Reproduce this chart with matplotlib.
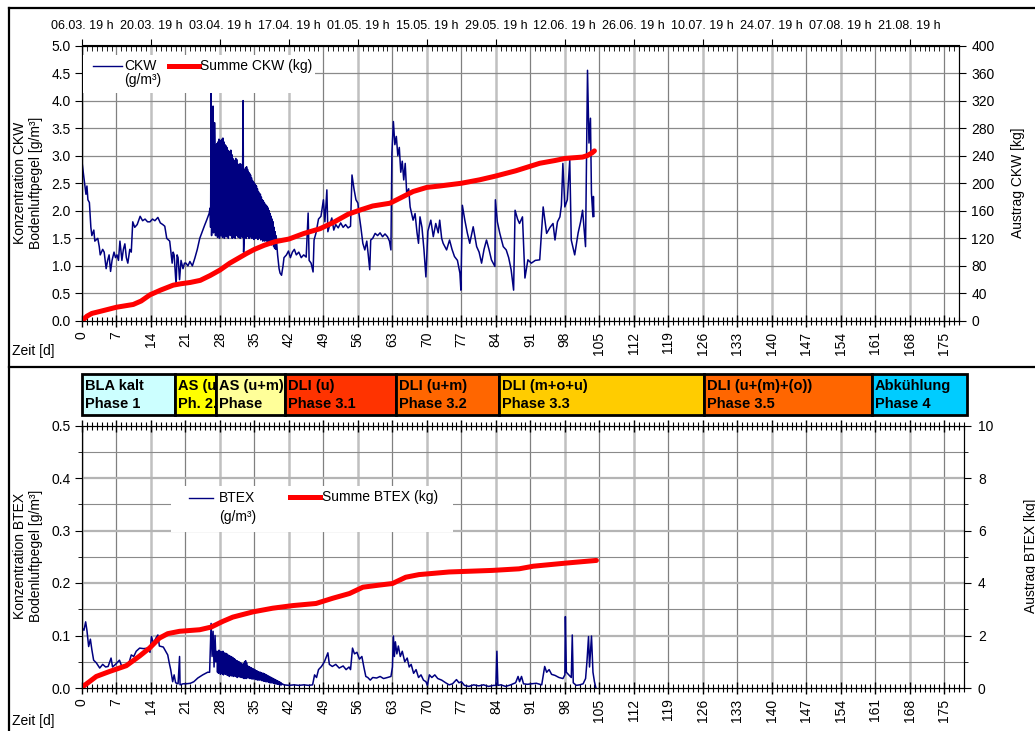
import numpy as np
import matplotlib
matplotlib.use("Agg")
import matplotlib.pyplot as plt
from matplotlib.patches import Rectangle
from matplotlib.lines import Line2D
from matplotlib.transforms import Bbox, TransformedBbox
from matplotlib.ticker import MultipleLocator, FormatStrFormatter

plt.rcParams['font.family'] = ['Liberation Sans', 'DejaVu Sans']

# ---- data -------------------------------------------------------------
date_labels = ['06.03. 19 h', '20.03. 19 h', '03.04. 19 h', '17.04. 19 h',
               '01.05. 19 h', '15.05. 19 h', '29.05. 19 h', '12.06. 19 h',
               '26.06. 19 h', '10.07. 19 h', '24.07. 19 h', '07.08. 19 h',
               '21.08. 19 h']
day_ticks = list(range(0, 176, 7))

# CKW Bodenluft (Tag, g/m3)
ckw = [
    (0, 0.0), (0.05, 2.85), (0.4, 2.6), (0.8, 2.3), (1.0, 2.45), (1.2, 2.2),
    (1.5, 2.15), (1.8, 1.7), (2.0, 1.55), (2.4, 1.65), (2.6, 1.45), (3.2, 1.5),
    (3.5, 1.35), (3.7, 1.2), (4.2, 1.3), (4.5, 1.25), (4.9, 0.95), (5.2, 1.1),
    (5.5, 1.2), (5.8, 0.9), (6.1, 1.1), (6.5, 1.25), (6.8, 1.15), (7.1, 1.2),
    (7.4, 1.1), (7.7, 1.45), (8.1, 1.1), (8.4, 1.3), (8.7, 1.4), (9.0, 1.15),
    (9.3, 1.05), (9.7, 1.3), (10.0, 1.25), (10.3, 1.8), (10.7, 1.7), (11.2, 1.75),
    (11.8, 1.9), (12.3, 1.82), (12.8, 1.85), (13.3, 1.8), (13.8, 1.8), (14.3, 1.85),
    (14.8, 1.82), (15.4, 1.88), (15.9, 1.78), (16.4, 1.75), (16.8, 1.72), (17.2, 1.5),
    (17.8, 1.45), (18.3, 1.05), (18.5, 1.25), (18.7, 1.2), (19.1, 0.65), (19.3, 1.2),
    (19.5, 1.15), (19.8, 0.75), (20.1, 1.1), (20.5, 0.95), (20.8, 1.05), (21.1, 1.05),
    (21.5, 1.0), (21.9, 1.08), (22.4, 1.0), (22.9, 1.14), (23.4, 1.3), (23.9, 1.5),
    (24.4, 1.62), (24.9, 1.74), (25.3, 1.83), (25.8, 1.95), (26.0, 2.05), (26.1, 1.7),
    (26.2, 4.14), (26.3, 1.55), (26.5, 2.5), (26.6, 3.9), (26.7, 1.6), (26.9, 3.6),
    (27.0, 3.15), (27.1, 1.55), (27.2, 3.2), (27.3, 1.6), (27.4, 3.22), (27.5, 1.52),
    (27.6, 3.25), (27.7, 1.58), (27.8, 3.3), (27.9, 1.5), (28.0, 3.28), (28.1, 1.55),
    (28.2, 3.25), (28.3, 1.6), (28.4, 3.3), (28.5, 1.52), (28.6, 3.32), (28.7, 1.55),
    (28.8, 3.25), (28.9, 1.5), (29.0, 3.2), (29.1, 1.57), (29.2, 3.18), (29.3, 1.53),
    (29.4, 3.15), (29.5, 1.55), (29.6, 3.1), (29.7, 1.5), (29.8, 3.05), (29.9, 1.58),
    (30.0, 3.08), (30.1, 1.55), (30.2, 3.1), (30.3, 1.6), (30.4, 3.02), (30.5, 1.5),
    (30.6, 2.95), (30.7, 1.52), (30.8, 2.92), (30.9, 1.56), (31.0, 2.9), (31.1, 1.5),
    (31.2, 2.95), (31.3, 1.55), (31.4, 2.93), (31.5, 1.6), (31.6, 2.85), (31.7, 1.52),
    (31.8, 2.8), (31.9, 1.55), (32.0, 2.85), (32.1, 1.5), (32.2, 2.85), (32.3, 1.55),
    (32.4, 2.75), (32.5, 1.52), (32.6, 2.7), (32.7, 4.0), (32.8, 1.25), (32.9, 1.5),
    (33.0, 2.75), (33.1, 1.55), (33.2, 2.78), (33.3, 1.5), (33.4, 2.8), (33.5, 1.53),
    (33.6, 2.75), (33.7, 1.55), (33.8, 2.7), (33.9, 1.5), (34.0, 2.68), (34.1, 1.52),
    (34.2, 2.65), (34.3, 1.55), (34.4, 2.6), (34.5, 1.5), (34.6, 2.55), (34.7, 1.55),
    (34.8, 2.52), (34.9, 1.48), (35.0, 2.5), (35.1, 1.52), (35.2, 2.47), (35.3, 1.5),
    (35.4, 2.45), (35.5, 1.55), (35.6, 2.4), (35.7, 1.48), (35.8, 2.35), (35.9, 1.5),
    (36.0, 2.32), (36.1, 1.52), (36.2, 2.3), (36.3, 1.47), (36.4, 2.25), (36.5, 1.5),
    (36.6, 2.2), (36.7, 1.45), (36.8, 2.18), (36.9, 1.48), (37.0, 2.15), (37.1, 1.45),
    (37.2, 2.12), (37.3, 1.5), (37.4, 2.1), (37.5, 1.45), (37.6, 2.08), (37.7, 1.42),
    (37.8, 2.05), (37.9, 1.45), (38.0, 2.0), (38.1, 1.4), (38.2, 1.95), (38.3, 1.42),
    (38.4, 1.9), (38.5, 1.38), (38.6, 1.85), (38.7, 1.4), (38.8, 1.8), (38.9, 1.35),
    (39.0, 1.7), (39.1, 1.32), (39.2, 1.62), (39.3, 1.3), (39.4, 1.55), (39.7, 1.2),
    (40.0, 0.95), (40.2, 0.87), (40.5, 0.83), (40.8, 1.0), (41.0, 1.15), (41.5, 1.2),
    (41.9, 1.27), (42.3, 1.15), (42.7, 1.25), (43.1, 1.3), (43.5, 1.2), (44.0, 1.25),
    (44.5, 1.15), (45.0, 1.2), (45.5, 1.16), (45.9, 1.96), (46.1, 1.1), (46.5, 1.05),
    (46.9, 0.89), (47.1, 1.47), (47.5, 1.6), (48.0, 1.85), (48.5, 1.9), (49.0, 2.2),
    (49.3, 1.8), (49.7, 2.38), (49.9, 1.62), (50.3, 1.75), (50.7, 1.87), (51.1, 1.65),
    (51.5, 1.75), (52.0, 1.69), (52.5, 1.78), (53.0, 1.7), (53.5, 1.75), (54.0, 1.69),
    (54.5, 1.72), (54.8, 2.65), (55.2, 2.4), (55.6, 2.2), (56.0, 2.14), (56.2, 1.96),
    (56.6, 1.7), (57.0, 1.41), (57.4, 1.29), (57.8, 1.45), (58.1, 1.2), (58.4, 0.93),
    (58.6, 1.47), (59.0, 1.5), (59.5, 1.59), (60.0, 1.55), (60.5, 1.6), (61.0, 1.53),
    (61.5, 1.58), (62.0, 1.53), (62.4, 1.45), (62.7, 1.29), (62.9, 3.05), (63.2, 3.62),
    (63.5, 3.2), (63.8, 3.35), (64.1, 3.0), (64.4, 3.15), (64.7, 2.7), (65.0, 2.9),
    (65.3, 2.56), (65.6, 2.86), (65.9, 2.32), (66.3, 2.4), (66.6, 2.07), (67.2, 1.83),
    (67.6, 1.95), (68.0, 1.6), (68.3, 1.41), (68.6, 1.89), (69.0, 1.7), (69.4, 1.3),
    (69.8, 0.8), (70.2, 1.63), (70.8, 1.83), (71.3, 1.53), (71.8, 1.77), (72.3, 1.6),
    (72.6, 1.83), (73.0, 1.5), (73.3, 1.41), (74.0, 1.29), (74.6, 1.47), (75.1, 1.3),
    (75.6, 1.17), (76.2, 1.1), (76.7, 0.87), (76.9, 0.56), (77.2, 2.1), (77.7, 1.83),
    (78.2, 1.6), (78.7, 1.41), (79.4, 1.71), (80.1, 1.35), (80.6, 1.25), (81.1, 1.05),
    (81.6, 1.3), (82.1, 1.47), (82.6, 1.3), (83.1, 1.11), (83.8, 0.99), (83.9, 2.2),
    (84.3, 1.8), (84.8, 1.59), (85.5, 1.35), (86.1, 1.29), (86.6, 1.15), (87.1, 0.93),
    (87.6, 0.56), (87.9, 2.01), (88.4, 1.85), (88.8, 1.77), (89.4, 1.89), (89.9, 0.78),
    (90.5, 1.11), (91.2, 1.05), (92.0, 1.1), (92.9, 1.11), (93.6, 2.07), (94.3, 1.59),
    (95.0, 1.7), (95.6, 1.77), (96.0, 1.47), (96.5, 1.8), (97.0, 1.89), (97.3, 2.1),
    (97.6, 2.86), (98.0, 2.07), (98.5, 2.2), (99.0, 2.92), (99.3, 1.47), (100.0, 1.2),
    (100.7, 1.6), (101.2, 1.8), (101.6, 2.01), (102.2, 1.35), (102.4, 2.92), (102.6, 4.55),
    (102.9, 3.23), (103.2, 3.68), (103.4, 2.32), (103.7, 1.89), (103.8, 2.26), (103.9, 1.9),
]

# Summe CKW (Tag, kg)
summe_ckw = [
    (0, 0), (1, 7), (2, 11), (3.7, 14), (7, 20), (10.4, 24), (12, 29), (13.8, 38),
    (16, 45), (18.5, 52), (20, 54), (22, 56), (24, 59), (26, 66), (28, 74), (30, 84),
    (33.4, 98), (35, 104), (37, 110), (39.1, 115), (42, 119), (45, 127), (48.3, 134),
    (51, 143), (54, 155), (56.4, 161), (59, 167), (62.5, 171), (65, 180), (67.2, 188),
    (70, 194), (72.6, 196), (77, 200), (80.7, 205), (83.7, 210), (88, 218), (92.9, 229),
    (96, 233), (98, 236), (101.6, 238), (102.5, 240), (103.5, 244), (104, 247),
]

# BTEX Bodenluft (Tag, g/m3)
btex = [
    (0, 0.0), (0.05, 0.114), (0.4, 0.11), (0.74, 0.126), (1.0, 0.11), (1.35, 0.079),
    (1.7, 0.093), (2.0, 0.073), (2.36, 0.053), (2.9, 0.048), (3.6, 0.038), (4.2, 0.045),
    (4.8, 0.04), (5.3, 0.041), (5.9, 0.057), (6.2, 0.04), (6.8, 0.045), (7.6, 0.053),
    (8.2, 0.038), (9.0, 0.045), (9.6, 0.05), (10.0, 0.063), (10.5, 0.06), (11.0, 0.07),
    (11.7, 0.076), (12.5, 0.075), (13.5, 0.076), (13.8, 0.068), (14.1, 0.098), (14.5, 0.085),
    (15.0, 0.095), (15.4, 0.101), (15.7, 0.08), (16.5, 0.078), (17.4, 0.063), (17.7, 0.048),
    (18.0, 0.035), (18.4, 0.012), (18.7, 0.025), (19.0, 0.01), (19.5, 0.008), (19.8, 0.06),
    (19.9, 0.006), (20.5, 0.008), (21.1, 0.008), (22.0, 0.009), (22.7, 0.012), (23.5, 0.019),
    (24.5, 0.025), (25.5, 0.03), (25.9, 0.03), (26.2, 0.123), (26.4, 0.06), (26.6, 0.108),
    (26.8, 0.04), (27.0, 0.1), (27.2, 0.05),
    (27.4, 0.07), (27.5, 0.03), (27.6, 0.068), (27.7, 0.028), (27.8, 0.072), (27.9, 0.03),
    (28.0, 0.07), (28.1, 0.026), (28.2, 0.068), (28.3, 0.03), (28.4, 0.069), (28.5, 0.027),
    (28.6, 0.07), (28.7, 0.025), (28.8, 0.067), (28.9, 0.028), (29.0, 0.066), (29.1, 0.026),
    (29.2, 0.066), (29.3, 0.028), (29.4, 0.065), (29.5, 0.024), (29.6, 0.063), (29.7, 0.025),
    (29.8, 0.062), (29.9, 0.022), (30.0, 0.061), (30.1, 0.025), (30.2, 0.06), (30.3, 0.023),
    (30.4, 0.059), (30.5, 0.025), (30.6, 0.058), (30.7, 0.022), (30.8, 0.056), (30.9, 0.024),
    (31.0, 0.055), (31.1, 0.022), (31.2, 0.053), (31.3, 0.024), (31.4, 0.052), (31.5, 0.02),
    (31.6, 0.051), (31.7, 0.022), (31.8, 0.05), (31.9, 0.021), (32.0, 0.049), (32.1, 0.022),
    (32.2, 0.048), (32.3, 0.02), (32.4, 0.046), (32.5, 0.021), (32.6, 0.045), (32.7, 0.019),
    (32.8, 0.046), (32.9, 0.018), (33.0, 0.05), (33.1, 0.02), (33.2, 0.052), (33.3, 0.018),
    (33.4, 0.048), (33.5, 0.02), (33.6, 0.042), (33.7, 0.019), (33.8, 0.041), (33.9, 0.02),
    (34.0, 0.04), (34.1, 0.018), (34.2, 0.039), (34.3, 0.019), (34.4, 0.038), (34.5, 0.017),
    (34.6, 0.037), (34.7, 0.018), (34.8, 0.036), (34.9, 0.017), (35.0, 0.035), (35.1, 0.018),
    (35.2, 0.034), (35.3, 0.016), (35.4, 0.033), (35.5, 0.016), (35.6, 0.032), (35.7, 0.015),
    (35.8, 0.031), (35.9, 0.016), (36.0, 0.03), (36.1, 0.015), (36.2, 0.03), (36.3, 0.016),
    (36.4, 0.029), (36.5, 0.014), (36.6, 0.028), (36.7, 0.014), (36.8, 0.028), (36.9, 0.013),
    (37.0, 0.027), (37.1, 0.013), (37.2, 0.026), (37.3, 0.012), (37.4, 0.025), (37.5, 0.012),
    (37.6, 0.024), (37.7, 0.012), (37.8, 0.023), (37.9, 0.011), (38.0, 0.022), (38.1, 0.01),
    (38.2, 0.021), (38.3, 0.01), (38.4, 0.02), (38.5, 0.01), (38.6, 0.019), (38.7, 0.01),
    (38.8, 0.018), (38.9, 0.009), (39.0, 0.017), (39.1, 0.009), (39.2, 0.016), (39.3, 0.008),
    (39.4, 0.015), (39.5, 0.008), (39.6, 0.014), (39.7, 0.007), (39.8, 0.013), (39.9, 0.007),
    (40.0, 0.012), (40.1, 0.006), (40.2, 0.011), (40.3, 0.006), (40.4, 0.01), (40.5, 0.006),
    (40.6, 0.008),
    (41, 0.006), (42, 0.005), (43, 0.006), (44, 0.005), (45, 0.006), (46, 0.005),
    (46.8, 0.006), (47.2, 0.025), (47.6, 0.02), (48.0, 0.035), (48.6, 0.041), (49.2, 0.05),
    (49.9, 0.067), (50.2, 0.045), (50.8, 0.041), (51.5, 0.045), (52.2, 0.038), (53.0, 0.042),
    (53.6, 0.035), (54.2, 0.04), (54.5, 0.035), (54.9, 0.076), (55.3, 0.065), (55.8, 0.068),
    (56.3, 0.055), (56.8, 0.06), (57.2, 0.04), (57.6, 0.022), (58.0, 0.02), (58.5, 0.015),
    (59.0, 0.02), (59.8, 0.019), (60.5, 0.022), (61.2, 0.018), (62.0, 0.02), (62.7, 0.022),
    (63.0, 0.04), (63.2, 0.099), (63.4, 0.06), (63.6, 0.088), (63.9, 0.065), (64.2, 0.08),
    (64.6, 0.06), (65.0, 0.07), (65.5, 0.05), (66.0, 0.057), (66.4, 0.04), (66.8, 0.045),
    (67.3, 0.028), (67.8, 0.035), (68.3, 0.02), (68.8, 0.025), (69.3, 0.015), (69.8, 0.012),
    (70.1, 0.005), (70.5, 0.025), (71.0, 0.02), (71.6, 0.025), (72.2, 0.018), (73.0, 0.015),
    (73.8, 0.01), (74.5, 0.006), (75.2, 0.008), (76.0, 0.016), (76.5, 0.01), (77.0, 0.012),
    (77.6, 0.005), (78.5, 0.003), (79.5, 0.006), (80.5, 0.004), (81.5, 0.006), (82.5, 0.003),
    (83.5, 0.005), (84.0, 0.005), (84.2, 0.07), (84.4, 0.005), (85.0, 0.006), (86.0, 0.003),
    (87.0, 0.006), (88.0, 0.01), (88.5, 0.022), (88.8, 0.012), (89.2, 0.022), (89.6, 0.008),
    (90.4, 0.007), (91.2, 0.008), (92.2, 0.009), (93.3, 0.006), (93.9, 0.041), (94.3, 0.03),
    (94.8, 0.035), (95.3, 0.026), (96.0, 0.024), (96.8, 0.02), (97.6, 0.018), (98.0, 0.025),
    (98.1, 0.136), (98.3, 0.03), (98.8, 0.025), (99.3, 0.02), (99.5, 0.101), (99.7, 0.01),
    (100.3, 0.005), (101.0, 0.006), (101.7, 0.008), (102.2, 0.018), (102.5, 0.053), (102.8, 0.098),
    (103.0, 0.04), (103.2, 0.07), (103.4, 0.099), (103.7, 0.03), (104.0, 0.012), (104.3, 0.0),
]

# Summe BTEX (Tag, kg)
summe_btex = [
    (0, 0), (0.5, 0.1), (1.5, 0.24), (2.9, 0.44), (5.6, 0.63), (9, 0.85), (11.7, 1.22),
    (13.7, 1.52), (15.7, 1.9), (17.4, 2.07), (19.8, 2.16), (23.9, 2.22), (26.2, 2.32),
    (28.6, 2.54), (30.6, 2.7), (34.7, 2.9), (38.7, 3.04), (42.8, 3.14), (47.5, 3.22),
    (50.9, 3.42), (54.3, 3.6), (57, 3.84), (60.3, 3.92), (63, 3.98), (65.7, 4.22),
    (68.4, 4.32), (74.5, 4.42), (83.3, 4.48), (88.7, 4.54), (91.6, 4.64), (98.3, 4.76),
    (104.4, 4.86),
]

phase_names = ['BLA kalt\nPhase 1', 'AS (u)\nPh. 2.1', 'AS (u+m)\nPhase\n2.2',
               'DLI (u)\nPhase 3.1', 'DLI (u+m)\nPhase 3.2', 'DLI (m+o+u)\nPhase 3.3',
               'DLI (u+(m)+(o))\nPhase 3.5', 'Abkühlung\nPhase 4']
phase_edges = [0, 18.9, 27.2, 41.2, 63.7, 84.6, 126.2, 160.2, 179.5]
phase_colors = ['#ccffff', '#ffff00', '#ffff99', '#ff3300', '#ff6600',
                '#ffcc00', '#ff6600', '#00ccff']

ckw_day, ckw_val = zip(*ckw)
sckw_day, sckw_val = zip(*summe_ckw)
btex_day, btex_val = zip(*btex)
sbtex_day, sbtex_val = zip(*summe_btex)

NAVY = '#000080'
RED = '#ff0000'

# ---- layout (pixel based) ---------------------------------------------
W, H = 1035, 731


def box(x0, y0, x1, y1):
    return [x0 / W, 1 - y1 / H, (x1 - x0) / W, (y1 - y0) / H]


def fx(px):
    return px / W


def fy(py):
    return 1 - py / H


fig = plt.figure(figsize=(W / 100, H / 100), dpi=100)
ax1 = fig.add_axes(box(82, 45.5, 959, 321))
ax2 = fig.add_axes(box(82, 425.5, 964, 688))
ax3 = fig.add_axes(box(82, 374, 967, 415))


def setup_x(ax, xmax):
    ax.set_xlim(0, xmax)
    ax.set_xticks(day_ticks)
    ax.set_xticklabels([str(d) for d in day_ticks], rotation=90, fontsize=10)
    ax.xaxis.set_minor_locator(MultipleLocator(1))
    ax.tick_params(axis='x', which='major', direction='inout', length=9, width=1, pad=3)
    ax.tick_params(axis='x', which='minor', direction='inout', length=6, width=0.8)
    for d in day_ticks:
        if d % 14 == 0:
            ax.axvline(d, color='#c0c0c0', lw=1.8, zorder=0.5)
        else:
            ax.axvline(d, color='#808080', lw=0.9, zorder=0.5)


# ---- top: CKW --------------------------------------------------------
setup_x(ax1, 178)
ax1.set_ylim(0, 5)
ax1.set_yticks(np.arange(0, 5.01, 0.5))
ax1.yaxis.set_major_formatter(FormatStrFormatter('%.1f'))
ax1.tick_params(axis='y', direction='out', length=5, labelsize=10, pad=3)
for v in np.arange(0.5, 5.0, 0.5):
    ax1.axhline(v, color='#8a8a8a', lw=0.9, zorder=0.5)
ax1.plot(ckw_day, ckw_val, color=NAVY, lw=1.1, zorder=2)

secax = ax1.secondary_xaxis('top')
secax.set_xticks(list(range(0, 169, 14)))
secax.set_xticklabels(date_labels)
secax.xaxis.set_minor_locator(MultipleLocator(1))
secax.tick_params(which='major', direction='inout', length=8, labelsize=9, pad=6)
secax.tick_params(which='minor', direction='in', length=4)

ax1r = ax1.twinx()
ax1r.set_ylim(0, 400)
ax1r.set_yticks(range(0, 401, 40))
ax1r.tick_params(axis='y', direction='out', length=5, labelsize=10, pad=4)
ax1r.plot(sckw_day, sckw_val, color=RED, lw=3.6, solid_capstyle='round')

# ---- bottom: BTEX ----------------------------------------------------
setup_x(ax2, 179)
ax2.tick_params(axis='x', which='both', top=True)
ax2.set_ylim(0, 0.5)
ax2.set_yticks(np.arange(0, 0.51, 0.1))
ax2.yaxis.set_minor_locator(MultipleLocator(0.05))
ax2.yaxis.set_major_formatter(FormatStrFormatter('%.1f'))
ax2.tick_params(axis='y', which='major', direction='out', length=5, labelsize=10, pad=3)
ax2.tick_params(axis='y', which='minor', direction='out', length=3)
for v in np.arange(0.05, 0.5, 0.05):
    if round(v * 100) % 10 == 0:
        ax2.axhline(v, color='#b4b4b4', lw=1.6, zorder=0.5)
    else:
        ax2.axhline(v, color='#8a8a8a', lw=0.8, zorder=0.5)
ax2.plot(btex_day, btex_val, color=NAVY, lw=1.1, zorder=2)

ax2r = ax2.twinx()
ax2r.set_ylim(0, 10)
ax2r.set_yticks(range(0, 11, 2))
ax2r.yaxis.set_minor_locator(MultipleLocator(1))
ax2r.tick_params(axis='y', which='major', direction='out', length=5, labelsize=10, pad=5)
ax2r.tick_params(axis='y', which='minor', direction='out', length=3)
ax2r.plot(sbtex_day, sbtex_val, color=RED, lw=3.6, solid_capstyle='round')

# ---- phase bar -------------------------------------------------------
ax3.set_xlim(0, phase_edges[-1])
ax3.set_ylim(0, 1)
ax3.axis('off')
for i, name in enumerate(phase_names):
    x0, x1 = phase_edges[i], phase_edges[i + 1]
    ax3.add_patch(Rectangle((x0, 0), x1 - x0, 1, facecolor=phase_colors[i],
                            edgecolor='black', lw=2, clip_on=False))
    t = ax3.text(x0 + 0.6, 0.89, name, va='top', ha='left', fontsize=10.5,
                 fontweight='bold', linespacing=1.37, clip_on=True)
    t.set_clip_box(TransformedBbox(Bbox([[x0, 0], [x1, 1]]), ax3.transData))

# ---- labels ----------------------------------------------------------
fig.text(fx(28), fy(183), 'Konzentration CKW\nBodenluftpegel [g/m³]', rotation=90,
         ha='center', va='center', fontsize=10, multialignment='center')
fig.text(fx(1018), fy(183), 'Austrag CKW [kg]', rotation=90, ha='center',
         va='center', fontsize=10)
fig.text(fx(28), fy(556), 'Konzentration BTEX\nBodenluftpegel [g/m³]', rotation=90,
         ha='center', va='center', fontsize=10, multialignment='center')
fig.text(fx(1031), fy(556), 'Austrag BTEX [kg]', rotation=90, ha='center',
         va='center', fontsize=10)
fig.text(fx(12), fy(351), 'Zeit [d]', ha='left', va='center', fontsize=10)
fig.text(fx(12), fy(721), 'Zeit [d]', ha='left', va='center', fontsize=10)

# ---- legends (drawn by hand like the original) -----------------------
fig.add_artist(Rectangle((fx(83), fy(93)), 232 / W, 38 / H, transform=fig.transFigure,
                         facecolor='white', edgecolor='none', zorder=3))
fig.add_artist(Line2D([fx(93), fx(122)], [fy(66), fy(66)], transform=fig.transFigure,
                      color=NAVY, lw=1, zorder=4))
fig.text(fx(124), fy(66), 'CKW', va='center', fontsize=10, zorder=4)
fig.text(fx(124), fy(80), '(g/m³)', va='center', fontsize=10, zorder=4)
fig.add_artist(Line2D([fx(169), fx(199)], [fy(66), fy(66)], transform=fig.transFigure,
                      color=RED, lw=3.6, zorder=4))
fig.text(fx(200), fy(66), 'Summe CKW (kg)', va='center', fontsize=10, zorder=4)

fig.add_artist(Rectangle((fx(171), fy(532)), 282 / W, 46 / H, transform=fig.transFigure,
                         facecolor='white', edgecolor='none', zorder=3))
fig.add_artist(Line2D([fx(189), fx(213)], [fy(498), fy(498)], transform=fig.transFigure,
                      color=NAVY, lw=1, zorder=4))
fig.text(fx(219), fy(498), 'BTEX', va='center', fontsize=10, zorder=4)
fig.text(fx(219), fy(517), '(g/m³)', va='center', fontsize=10, zorder=4)
fig.add_artist(Line2D([fx(290), fx(320)], [fy(497), fy(497)], transform=fig.transFigure,
                      color=RED, lw=3.6, zorder=4))
fig.text(fx(322), fy(497), 'Summe BTEX (kg)', va='center', fontsize=10, zorder=4)

# ---- outer frame -----------------------------------------------------
for xs, ys in [([fx(9), 1], [fy(8), fy(8)]), ([fx(9), fx(9)], [fy(8), 0]),
               ([fx(9), 1], [fy(367), fy(367)])]:
    fig.add_artist(Line2D(xs, ys, transform=fig.transFigure, color='black', lw=1.6))

fig.savefig('out.png', dpi=100)
